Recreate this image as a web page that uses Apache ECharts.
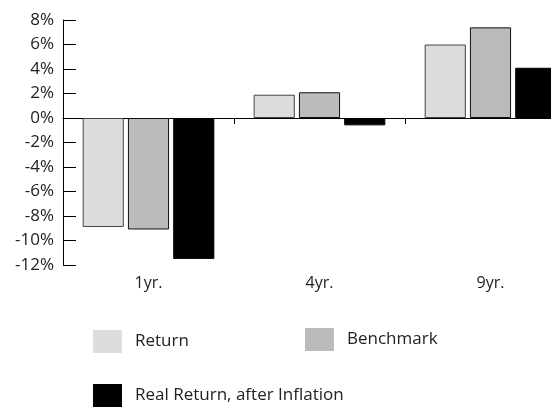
<!DOCTYPE html>
<html><head><meta charset="utf-8">
<script src="https://cdn.jsdelivr.net/npm/echarts@6/dist/echarts.min.js"></script>
<style>html,body{margin:0;padding:0;background:#fff}#c{width:551px;height:407px}</style>
</head><body><div id="c"></div>
<script>
const categories = ['1yr.', '4yr.', '9yr.'];
const returnVals = [-8.9, 1.9, 6.0];
const benchmarkVals = [-9.1, 2.1, 7.4];
const realVals = [-11.5, -0.6, 4.1];
const yTicks = { min: -12, max: 8, interval: 2 };

const font = '"Open Sans", sans-serif';
const chart = echarts.init(document.getElementById('c'), null, { renderer: 'canvas' });
const legendBase = {
  orient: 'horizontal', icon: 'rect', itemWidth: 29, itemHeight: 23,
  itemStyle: { borderWidth: 0 },
  textStyle: { fontFamily: font, fontSize: 17, color: '#222', padding: [0, 0, 0, 8] },
  selectedMode: false
};
chart.setOption({
  animation: false,
  grid: { left: 63, top: 20, width: 513, height: 245, containLabel: false, outerBoundsMode: 'none' },
  legend: [
    Object.assign({ data: ['Return'], left: 88, top: 325 }, legendBase),
    Object.assign({ data: ['Benchmark'], left: 300, top: 323 }, legendBase),
    Object.assign({ data: ['Real Return, after Inflation'], left: 88, top: 379 }, legendBase)
  ],
  xAxis: [
    {
      type: 'category', data: categories,
      axisLine: { onZero: true, lineStyle: { color: '#000', width: 1 } },
      axisTick: { show: true, length: 6, lineStyle: { color: '#000' } },
      axisLabel: { show: false }
    },
    {
      type: 'category', data: categories, position: 'bottom',
      axisLine: { show: false, onZero: false }, axisTick: { show: false },
      axisLabel: { fontFamily: font, fontSize: 16, color: '#222', margin: 10 }
    }
  ],
  yAxis: {
    type: 'value', min: yTicks.min, max: yTicks.max, interval: yTicks.interval,
    axisLine: { show: true, lineStyle: { color: '#000', width: 1 } },
    axisTick: { show: true, inside: true, length: 13, lineStyle: { color: '#000' } },
    splitLine: { show: false },
    axisLabel: { formatter: '{value}%', fontFamily: font, fontSize: 17, color: '#222', margin: 9 }
  },
  series: [
    { name: 'Return', type: 'bar', data: returnVals, barCategoryGap: '23%', barGap: '10%',
      itemStyle: { color: '#dddddd', borderColor: '#444', borderWidth: 1 } },
    { name: 'Benchmark', type: 'bar', data: benchmarkVals,
      itemStyle: { color: '#bbbbbb', borderColor: '#111', borderWidth: 1 } },
    { name: 'Real Return, after Inflation', type: 'bar', data: realVals,
      itemStyle: { color: '#000000', borderColor: '#000', borderWidth: 1 } }
  ]
});
</script></body></html>
